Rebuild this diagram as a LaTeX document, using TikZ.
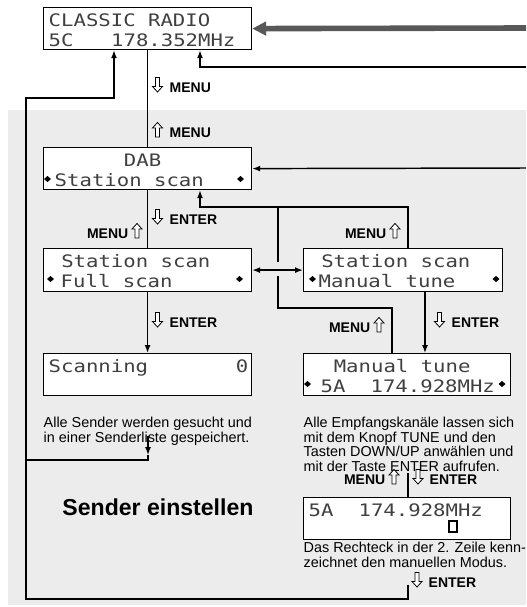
\documentclass[tikz,border=0pt]{standalone}
\usepackage{fontspec}
\setmainfont{Liberation Sans}
\newfontfamily\lcdfont{DejaVu Sans Mono}[FakeStretch=1.2]
\usetikzlibrary{arrows.meta}
\definecolor{panelgray}{RGB}{236,236,236}
\definecolor{feedgray}{RGB}{88,88,88}
\newcommand{\lsp}{\hspace*{9.4pt}}

\tikzset{every picture/.style={line width=1.1pt}}

\begin{document}
\begin{tikzpicture}[x=0.75pt,y=0.75pt,yscale=-1,xscale=1,
  lcd/.style={draw, fill=white, line width=0.9pt, inner sep=0pt, anchor=north west, minimum width=#1, minimum height=31.5pt},
  lcd/.default=156pt,
  row/.style={anchor=base west, inner sep=0pt, font=\lcdfont\fontsize{12.9}{12.9}\selectfont, text=black!75},
  note/.style={anchor=north west, inner sep=0pt, align=left, font=\fontsize{10.8}{10.9}\selectfont},
  key/.style={inner sep=0pt, font=\bfseries\fontsize{10.5}{10.5}\selectfont},
  arr/.style={-{Latex[length=6pt,width=4.5pt]}},
  feed/.style={draw=feedgray, line width=4.2pt, -{Triangle[length=10.5pt,width=10pt]}},
  lcdarrow/.pic={\fill (-3.5,0) -- (0,-3) -- (3.5,0) -- (0,3) -- cycle;},
  hdown/.pic={\draw [line width=0.6pt, fill=white] (-2,0) -- (-2,-9) -- (-5,-9) -- (0,-14.5) -- (5,-9) -- (2,-9) -- (2,0) -- cycle;},
  hup/.pic={\draw [line width=0.6pt, fill=white] (-2,-14.5) -- (-2,-5.5) -- (-5,-5.5) -- (0,0) -- (5,-5.5) -- (2,-5.5) -- (2,-14.5) -- cycle;}
]
\useasboundingbox (0,0) rectangle (526,607);

% Panel
\fill [panelgray] (8,110) rectangle (526,605);

% LCD boxes
\draw (43,7) node [lcd] (radio) {};
\draw (43,147) node [lcd] (dab) {};
\draw (43,248) node [lcd, minimum height=32.25pt] (fullscan) {};
\draw (303,248) node [lcd=149.25pt, minimum height=32.25pt] (manscan) {};
\draw (43,353) node [lcd] (scanning) {};
\draw (303,353) node [lcd=155.25pt] (mantune) {};
\draw (303,497) node [lcd=155.25pt] (manual) {};

% Text Node
\draw (48,26) node [row] (radio1) {CLASSIC RADIO};
\draw (48,46) node [row] (radio2) {5C\lsp\lsp\lsp178.352MHz};
\draw (48,166) node [row] (dab1) {\lsp\lsp\lsp\lsp\lsp\lsp DAB};
\draw (54,186) node [row] (dab2) {Station scan};
\draw (48,267) node [row] (full1) {\lsp Station scan};
\draw (60,287) node [row] (full2) {Full scan};
\draw (308,267) node [row] (mscan1) {\lsp Station scan};
\draw (318,287) node [row] (mscan2) {Manual tune};
\draw (48,372) node [row] (scan1) {Scanning\lsp\lsp\lsp\lsp\lsp\lsp\lsp 0};
\draw (308,372) node [row] (mtune1) {\lsp\lsp Manual tune};
\draw (320,392) node [row] (mtune2) {5A\lsp\lsp 174.928MHz};
\draw (308,516) node [row] (man1) {5A\lsp\lsp 174.928MHz};

% Markers
\pic at (47.5,179) {lcdarrow};
\pic at (240.5,179) {lcdarrow};
\pic at (50.5,279) {lcdarrow};
\pic at (239.5,279) {lcdarrow};
\pic at (312.5,279) {lcdarrow};
\pic at (496,279) {lcdarrow};
\pic at (307.5,384) {lcdarrow};
\pic at (502,384) {lcdarrow};
% cursor
\draw [line width=1.1pt] (449,521) rectangle (457,532);

% Notes
\draw (43,416.5) node [note] (scannote) {Alle Sender werden gesucht und\\in einer Senderliste gespeichert.};
\draw (303,416.5) node [note] (tunenote) {Alle Empfangskanäle lassen sich\\mit dem Knopf TUNE und den\\Tasten DOWN/UP anwählen und\\mit der Taste ENTER aufrufen.};
\draw (303,541.5) node [note] (modenote) {Das Rechteck in der 2. Zeile kenn-\\zeichnet den manuellen Modus.};
\draw (158,515) node [anchor=base, inner sep=0pt, font=\bfseries\fontsize{17.3}{17.3}\selectfont] (title) {Sender einstellen};

% Keys
\pic at (157.5,77.5) {hdown};
\draw (169,92) node [key, anchor=base west] (k1) {MENU};
\pic at (157.5,122.5) {hup};
\draw (169,137) node [key, anchor=base west] (k2) {MENU};
\pic at (157.5,209.5) {hdown};
\draw (169,224) node [key, anchor=base west] (k3) {ENTER};
\pic at (137,223.5) {hup};
\draw (129,238) node [key, anchor=base east] (k4) {MENU};
\pic at (395,223.5) {hup};
\draw (387,238) node [key, anchor=base east] (k5) {MENU};
\pic at (157.5,312.5) {hdown};
\draw (169,327) node [key, anchor=base west] (k6) {ENTER};
\pic at (379,317.5) {hup};
\draw (371,332) node [key, anchor=base east] (k7) {MENU};
\pic at (439.5,312.5) {hdown};
\draw (451,327) node [key, anchor=base west] (k8) {ENTER};
\pic at (394,469.5) {hup};
\draw (386,484) node [key, anchor=base east] (k9) {MENU};
\pic at (418,469.5) {hdown};
\draw (429,484) node [key, anchor=base west] (k10) {ENTER};
\pic at (417,572.5) {hdown};
\draw (428,587) node [key, anchor=base west] (k11) {ENTER};

% Coordinates
\coordinate (grayin) at (526,28);
\coordinate (backin) at (526,67);
\coordinate (backup) at (200,67);
\coordinate (dabin) at (526,168);
\coordinate (ret) at (408,207);
\coordinate (retup) at (200,207);
\coordinate (mt1) at (392,308);
\coordinate (mt2) at (278,308);
\coordinate (hopb) at (278,276);
\coordinate (hopa) at (278,262);
\coordinate (ent) at (425,0);
\coordinate (sc1) at (148,436);
\coordinate (sctip) at (148,455);
\coordinate (sc2) at (148,460);
\coordinate (lt) at (26,98);
\coordinate (lup) at (114,98);
\coordinate (lb) at (26,599);
\coordinate (bot) at (408,585);
\coordinate (mm) at (408,473);

% Connectors
\draw [feed] (grayin) -- (radio.east);
\draw [arr] (backin) -- (backup) -- (backup |- radio.south);
\draw [arr] (dabin) -- (dab.east);
\draw (radio.south) -- (dab.north);
\draw (dab.south) -- (fullscan.north);
\draw [arr] (fullscan.south) -- (scanning.north);
\draw [{Latex[length=6pt,width=4.5pt]}-{Latex[length=6pt,width=4.5pt]}] (fullscan.east) -- (manscan.west);
\draw [arr] (manscan.north -| ret) -- (ret) -- (retup) -- (retup |- dab.south);
\draw (mantune.north -| mt1) -- (mt1) -- (mt2) -- (hopb);
\draw (hopa) -- (mt2 |- ret);
\draw [arr] (manscan.south -| ent) -- (mantune.north -| ent);
\draw [arr] (sc1) -- (sctip);
\draw [arr] (sctip) -- (sc2) -- (sc2 -| lt) -- (lt) -- (lup) -- (lup |- radio.south);
\draw (bot) -- (bot |- lb) -- (lb) -- (lb |- sc2);
\draw (mm) -- (mm |- manual.north);

\end{tikzpicture}
\end{document}
